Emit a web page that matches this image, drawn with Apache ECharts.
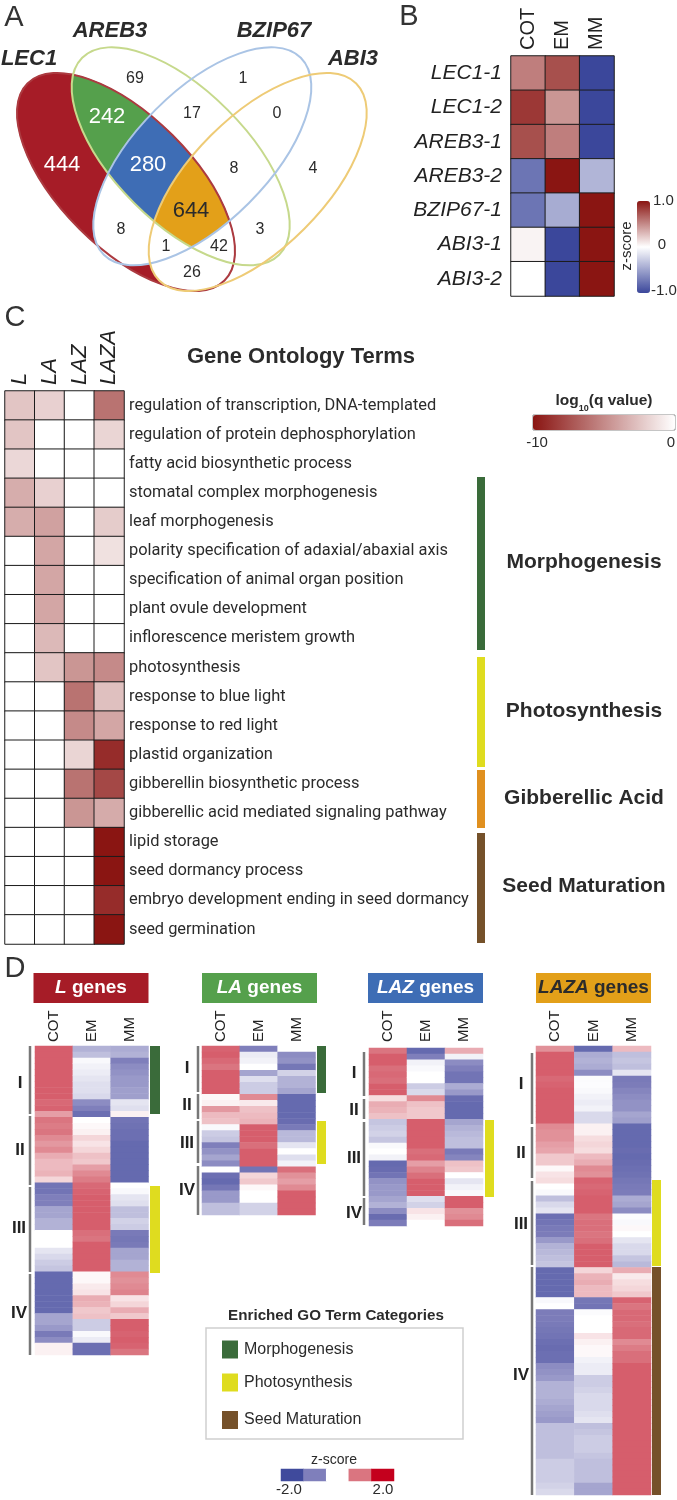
<!DOCTYPE html>
<html>
<head>
<meta charset="utf-8">
<title>LEC1 AREB3 BZIP67 ABI3</title>
<script src="https://cdn.jsdelivr.net/npm/echarts@6/dist/echarts.min.js"></script>
<style>
  html, body { margin: 0; padding: 0; background: #fff; }
  #main { width: 677px; height: 1500px; }
</style>
</head>
<body>
<div id="main"></div>
<script>
// panel A - overlap counts, same order as vennSpots below
var vennCounts = [69, 1, 17, 0, 242, 444, 280, 8, 4, 644, 8, 3, 1, 42, 26]
var vennSets = ['LEC1', 'AREB3', 'BZIP67', 'ABI3']

// panel B - z-score
var stages = ['COT', 'EM', 'MM']
var bGenes = ['LEC1-1', 'LEC1-2', 'AREB3-1', 'AREB3-2', 'BZIP67-1', 'ABI3-1', 'ABI3-2']
var bCot = [0.55, 0.85, 0.75, -0.75, -0.75, 0.05, 0]
var bEm = [0.75, 0.45, 0.55, 1, -0.45, -1, -1]
var bMm = [-1, -1, -1, -0.4, 1, 1, 1]

// panel C - log10(q value)
var cGroups = ['L', 'LA', 'LAZ', 'LAZA']
var cTerms = [
  'regulation of transcription, DNA-templated',
  'regulation of protein dephosphorylation',
  'fatty acid biosynthetic process',
  'stomatal complex morphogenesis',
  'leaf morphogenesis',
  'polarity specification of adaxial/abaxial axis',
  'specification of animal organ position',
  'plant ovule development',
  'inflorescence meristem growth',
  'photosynthesis',
  'response to blue light',
  'response to red light',
  'plastid organization',
  'gibberellin biosynthetic process',
  'gibberellic acid mediated signaling pathway',
  'lipid storage',
  'seed dormancy process',
  'embryo development ending in seed dormancy',
  'seed germination'
]
var cL = [-2.5, -2.5, -1.7, -3.5, -3.5, 0, 0, 0, 0, 0, 0, 0, 0, 0, 0, 0, 0, 0, 0]
var cLA = [-2, 0, 0, -2, -4, -3.8, -3.8, -3.8, -3, -2.5, 0, 0, 0, 0, 0, 0, 0, 0, 0]
var cLAZ = [0, 0, 0, 0, 0, 0, 0, 0, 0, -4.5, -6, -5, -1.8, -6, -4.5, 0, 0, 0, 0]
var cLAZA = [-6, -1.8, 0, 0, -2.2, -1.3, 0, 0, 0, -5, -2.7, -3.8, -9, -7.8, -3.6, -10, -10, -9, -10]

// panel D - z-score per row
var lCot = [1.2, 1.2, 1.2, 1.2, 1.2, 1.2, 1.2, 1.2, 1.2, 1.1, 1.15, 0.7,
  1.0, 0.95, 1.0, 0.85, 0.75, 0.85, 0.6, 0.5, 0.5, 0.55, 0.3,
  -1.2, -1.2, -1.0, -1.0, -0.7, -0.7, -0.6, -0.6, 0, 0, 0, -0.2, -0.3, -0.4, -0.45,
  -1.4, -1.4, -1.4, -1.4, -1.4, -1.4, -1.4, -0.7, -0.7, -0.8, -1.1, -0.9, 0.1, 0.1]
var lEm = [-0.6, -0.5, -0.05, -0.1, -0.15, -0.2, -0.25, -0.25, -0.3, -0.9, -1.0, -1.3,
  0, 0.05, 0.1, 0.3, 0.2, 0.3, 0.45, 0.4, 0.7, 0.85, 0.95,
  1.1, 1.15, 1.2, 1.2, 1.2, 1.2, 1.2, 1.2, 1.05, 1.0, 1.2, 1.2, 1.2, 1.2, 1.2,
  0.05, 0.05, 0.15, 0.2, 0.6, 0.55, 0.4, 0.45, -0.4, -0.4, -0.05, -0.15, -1.3, -1.3]
var lMm = [-0.65, -0.6, -1.0, -0.9, -0.85, -0.8, -0.8, -0.75, -0.75, -0.2, -0.25, 0.1,
  -1.2, -1.25, -1.3, -1.3, -1.4, -1.4, -1.4, -1.4, -1.4, -1.4, -1.4,
  0, -0.05, -0.2, -0.25, -0.5, -0.5, -0.35, -0.4, -1.1, -1.15, -1.1, -0.7, -0.7, -0.6, -0.6,
  0.85, 0.8, 0.85, 0.9, 0.2, 0.3, 0.6, 0.4, 1.2, 1.2, 1.15, 1.2, 1.15, 1.0]

var laCot = [1.15, 1.2, 1.1, 1.0, 1.2, 1.2, 1.2, 1.2, 0.05, 0.1, 0.75, 0.5, 0.45, -0.05,
  -0.4, -0.45, -1.0, -0.85, -0.7, -0.9, 0.0, -1.3, -1.4, -1.15, -0.8, -0.8, -0.5, -0.5]
var laEm = [-1.0, -0.15, -0.1, 0, -0.7, -0.25, -0.4, -0.4, 0.85, 0.15, 0.45, 0.5, 0.55, 1.2,
  1.2, 1.2, 1.05, 1.2, 1.2, 1.2, -1.2, 0.3, 0.4, 0.05, 0, 0, -0.35, -0.35]
var laMm = [0, -0.9, -0.85, -1.15, -0.35, -0.6, -0.6, -0.7, -1.4, -1.4, -1.4, -1.4, -1.35, -1.1,
  -0.55, -0.55, -0.2, 0, -0.25, -0.1, 1.05, 0.8, 0.7, 0.85, 1.2, 1.2, 1.2, 1.2]

var lazCot = [1.0, 1.2, 1.2, 1.05, 1.1, 1.05, 1.2, 1.2, 0.25, 0.6, 0.55, 0.45, -0.45, -0.4, -0.35,
  -0.45, -0.05, 0, -0.1, -1.4, -1.35, -1.2, -0.85, -0.8, -0.8, -0.7, -0.6, -0.9, -1.35, -1.05]
var lazEm = [-1.4, -1.0, -0.1, -0.05, 0, 0, -0.4, -0.3, 0.85, 0.45, 0.4, 0.4, 1.2, 1.2, 1.2,
  1.2, 1.2, 1.05, 1.1, 0.7, 0.9, 1.05, 1.2, 1.2, 1.2, -0.25, -0.35, 0.2, 0.1, 0]
var lazMm = [0.6, -0.1, -0.9, -1.0, -1.2, -1.2, -0.65, -0.8, -1.35, -1.4, -1.4, -1.4, -0.7, -0.6, -0.55,
  -0.5, -0.5, -1.1, -0.95, 0.45, 0.4, 0, -0.2, -0.1, -0.05, 1.2, 1.2, 0.8, 0.85, 1.05]

var lazaCot = [0.8, 1.2, 1.2, 1.2, 1.2, 1.1, 1.15, 1.2, 1.2, 1.2, 1.2, 1.2, 1.2, 0.85, 0.8,
  0.8, 0.7, 0.65, 0.4, 0.4, 0.05, 0.2, 0.25, 0, -0.05, -0.5, -0.3, -0.2, -1.3, -1.2,
  -1.1, -1.05, -0.8, -0.6, -0.55, -0.5, -0.45, -1.4, -1.4, -1.4, -1.4, -1.4, -0.05, 0, -1.05,
  -1.05, -1.1, -1.15, -1.2, -1.3, -1.35, -1.3, -1.3, -0.9, -0.85, -0.8, -0.6, -0.6, -0.6, -0.65,
  -0.7, -0.75, -0.8, -0.5, -0.5, -0.5, -0.5, -0.5, -0.5, -0.4, -0.4, -0.4, -0.4, -0.35, -0.3]
var lazaEm = [-1.4, -0.65, -0.6, -0.65, -0.9, -0.03, -0.02, -0.05, -0.1, -0.15, -0.1, -0.3, -0.3, 0.1, 0.1,
  0.25, 0.3, 0.25, 0.5, 0.6, 0.85, 0.8, 1.15, 1.1, 1.15, 1.2, 1.2, 1.2, 1.0, 1.05,
  1.05, 1.0, 1.05, 1.2, 1.2, 1.2, 1.2, 0.3, 0.55, 0.6, 0.5, 0.5, -1.15, -1.2, -0.03,
  0, 0, 0, 0.2, 0.1, 0.05, 0.05, -0.1, -0.15, -0.15, -0.4, -0.4, -0.35, -0.3, -0.3,
  -0.3, -0.25, -0.2, -0.5, -0.45, -0.4, -0.4, -0.4, -0.45, -0.5, -0.5, -0.5, -0.5, -0.7, -0.7]
var lazaMm = [0.5, -0.5, -0.45, -0.5, -0.2, -1.1, -1.05, -0.95, -0.9, -0.85, -0.85, -0.7, -0.75, -1.4, -1.4,
  -1.4, -1.4, -1.35, -1.4, -1.35, -1.3, -1.25, -1.15, -1.1, -1.05, -0.65, -0.7, -0.9, -0.02, -0.05,
  0.05, 0, -0.2, -0.3, -0.3, -0.45, -0.55, 0.6, 0.15, 0.25, 0.3, 0.4, 1.15, 1.0, 1.1,
  1.1, 1.05, 1.1, 1.1, 0.85, 0.95, 1.05, 1.05, 1.2, 1.2, 1.2, 1.2, 1.2, 1.2, 1.2,
  1.2, 1.2, 1.2, 1.2, 1.2, 1.2, 1.2, 1.2, 1.2, 1.2, 1.2, 1.2, 1.2, 1.2, 1.2]

var zSteps = [-2, -1, 0, 1, 2]

var FONT = '"Liberation Sans", Arial, sans-serif'
var TERM_FONT = 'Roboto, "Liberation Sans", sans-serif'
var INK = '#2b2b2b'

var RED = '#a61c27'
var GREEN = '#55a04c'
var BLUE = '#3e6db5'
var ORANGE = '#e3a019'
var C_MORPH = '#3a6b3a'
var C_PHOTO = '#dfdc1f'
var C_GA = '#e0901f'
var C_SEED = '#75512a'

function cells (cols) {
  var out = []
  cols.forEach(function (col, x) {
    col.forEach(function (v, y) {
      out.push([x, y, v])
    })
  })
  return out
}

function rowNames (n) {
  var out = []
  for (var i = 0; i < n; i++) out.push('r' + i)
  return out
}

var grids = []
var xAxes = []
var yAxes = []
var series = []

function addHeat (box, xNames, yNames, cols, xLabel, yAxisExtra, border) {
  var idx = grids.length
  grids.push({ left: box[0], top: box[1], width: box[2], height: box[3], containLabel: false })
  xAxes.push({
    type: 'category',
    gridIndex: idx,
    data: xNames,
    position: 'top',
    axisLine: { show: false },
    axisTick: { show: false },
    splitLine: { show: false },
    axisLabel: xLabel || { show: false }
  })
  yAxes.push(Object.assign({
    type: 'category',
    gridIndex: idx,
    data: yNames,
    inverse: true,
    axisLine: { show: false },
    axisTick: { show: false },
    splitLine: { show: false },
    axisLabel: { show: false }
  }, yAxisExtra || {}))
  series.push({
    type: 'heatmap',
    xAxisIndex: idx,
    yAxisIndex: idx,
    data: cells(cols),
    silent: true,
    itemStyle: border ? { borderColor: '#1c1c1c', borderWidth: 1 } : { borderWidth: 0 },
    emphasis: { disabled: true }
  })
  return idx
}

function stageLabel (size, margin) {
  return { show: true, rotate: -90, interval: 0, fontFamily: FONT, fontSize: size, color: '#222', margin: margin }
}

// B
var sB = addHeat([511, 56, 103, 240], stages, bGenes, [bCot, bEm, bMm], stageLabel(20, 6), {
  axisLabel: { show: true, interval: 0, fontFamily: FONT, fontStyle: 'italic', fontSize: 21, color: '#222', margin: 9 }
}, true)

// C
var sC = addHeat([5, 391, 119, 553], cGroups, cTerms, [cL, cLA, cLAZ, cLAZA], {
  show: true, rotate: -90, interval: 0, fontFamily: FONT, fontStyle: 'italic', fontSize: 22, color: '#222', margin: 6
}, {
  position: 'right',
  axisLabel: { show: true, interval: 0, align: 'left', fontFamily: TERM_FONT, fontSize: 16.4, color: '#2b2b2b', margin: 5 }
}, true)

// D
var sL = addHeat([35, 1046, 113.5, 309], stages, rowNames(lCot.length), [lCot, lEm, lMm], stageLabel(15, 4))
var sLA = addHeat([202, 1046, 113.5, 169], stages, rowNames(laCot.length), [laCot, laEm, laMm], stageLabel(15, 4))
var sLAZ = addHeat([369, 1048, 114, 178], stages, rowNames(lazCot.length), [lazCot, lazEm, lazMm], stageLabel(15, 6))
var sLAZA = addHeat([536, 1046, 115, 449], stages, rowNames(lazaCot.length), [lazaCot, lazaEm, lazaMm], stageLabel(15, 4))
var sZ = addHeat([281, 1469, 113, 12], zSteps.map(String), ['z'], zSteps.map(function (v) { return [v] }))

// venn geometry
var ELL_A = 139.3
var ELL_B = 66
var ellipses = [
  { cx: 126, cy: 182, rot: 45 },
  { cx: 180.7, cy: 156.3, rot: 45 },
  { cx: 202.3, cy: 156.3, rot: -45 },
  { cx: 257.7, cy: 182, rot: -45 }
]

function ellipsePts (e) {
  var pts = []
  var r = e.rot * Math.PI / 180
  for (var i = 0; i < 180; i++) {
    var t = i * 2 * Math.PI / 180
    var ux = ELL_A * Math.cos(t)
    var uy = ELL_B * Math.sin(t)
    pts.push([e.cx + ux * Math.cos(r) - uy * Math.sin(r), e.cy + ux * Math.sin(r) + uy * Math.cos(r)])
  }
  return pts
}

// both shapes are convex so plain Sutherland-Hodgman does it
function clipConvex (subject, clip) {
  var out = subject
  for (var i = 0; i < clip.length; i++) {
    var a = clip[i]
    var b = clip[(i + 1) % clip.length]
    var inside = function (p) {
      return (b[0] - a[0]) * (p[1] - a[1]) - (b[1] - a[1]) * (p[0] - a[0]) >= 0
    }
    var input = out
    out = []
    for (var j = 0; j < input.length; j++) {
      var p = input[j]
      var q = input[(j + 1) % input.length]
      var pi = inside(p)
      var qi = inside(q)
      if (pi) out.push(p)
      if (pi !== qi) {
        var dx = q[0] - p[0]
        var dy = q[1] - p[1]
        var ex = b[0] - a[0]
        var ey = b[1] - a[1]
        var s = (ex * (p[1] - a[1]) - ey * (p[0] - a[0])) / (ey * dx - ex * dy)
        out.push([p[0] + s * dx, p[1] + s * dy])
      }
    }
    if (!out.length) break
  }
  return out
}

var ePts = ellipses.map(ellipsePts)
function overlap (ids) {
  var poly = ePts[ids[0]]
  for (var i = 1; i < ids.length; i++) poly = clipConvex(poly, ePts[ids[i]])
  return poly
}

var g = []

function poly (ids, color) {
  g.push({ type: 'polygon', silent: true, shape: { points: overlap(ids) }, style: { fill: color, stroke: color, lineWidth: 0.5 } })
}

function txt (x, y, text, size, opt) {
  opt = opt || {}
  g.push({
    type: 'text',
    silent: true,
    x: x,
    y: y,
    rotation: opt.rotation || 0,
    style: {
      text: text,
      fill: opt.color || INK,
      fontFamily: opt.family || FONT,
      fontSize: size,
      fontWeight: opt.weight || 'normal',
      fontStyle: opt.style || 'normal',
      align: opt.align || 'center',
      verticalAlign: 'middle',
      rich: opt.rich
    }
  })
}

function box (x0, y0, x1, y1, color) {
  g.push({ type: 'rect', silent: true, shape: { x: x0, y: y0, width: x1 - x0, height: y1 - y0 }, style: { fill: color } })
}

function vline (x, y0, y1) {
  box(x - 1.25, y0, x + 1.25, y1, '#777')
}

// venn painting, back to front
poly([0], RED)
poly([0, 2], '#fff')
poly([0, 3], '#fff')
poly([0, 1], GREEN)
poly([0, 1, 3], '#fff')
poly([0, 1, 2], BLUE)
poly([0, 1, 2, 3], ORANGE)

var vennStroke = ['#ac3a40', '#c6d98c', '#aac4e5', '#eecb76']
ellipses.forEach(function (e, i) {
  g.push({
    type: 'ellipse',
    silent: true,
    x: e.cx,
    y: e.cy,
    rotation: -e.rot * Math.PI / 180,
    shape: { cx: 0, cy: 0, rx: ELL_A, ry: ELL_B },
    style: { fill: 'none', stroke: vennStroke[i], lineWidth: 2 }
  })
})

var vennSpots = [
  [135, 79, 16], [243, 79, 16], [192, 114, 16], [277, 114, 16], [107, 117, 22],
  [62, 165, 22], [148, 165, 22], [234, 169, 16], [313, 169, 16], [191, 211, 22],
  [121, 230, 16], [260, 230, 16], [166, 247, 16], [219, 247, 16], [192, 273, 16]
]
var vennLight = { 4: 1, 5: 1, 6: 1 }
vennCounts.forEach(function (n, i) {
  var s = vennSpots[i]
  txt(s[0], s[1], String(n), s[2], { color: vennLight[i] ? '#fff' : INK })
})

var setSpots = [[29, 59], [110, 31], [274, 31], [353, 59]]
vennSets.forEach(function (name, i) {
  txt(setSpots[i][0], setSpots[i][1], name, 22, { weight: 'bold', style: 'italic' })
})

// panel letters
txt(14, 18, 'A', 29, { color: '#333' })
txt(409, 17, 'B', 29, { color: '#333' })
txt(15, 318, 'C', 29, { color: '#333' })
txt(15, 969, 'D', 29, { color: '#333' })

// B colour bar text
txt(653, 201, '1.0', 15, { align: 'left' })
txt(662, 245, '0', 15)
txt(651, 291, '-1.0', 15, { align: 'left' })
txt(627, 246, 'z-score', 15, { rotation: Math.PI / 2 })

// C headers and side bars
txt(301, 357, 'Gene Ontology Terms', 22, { weight: 'bold' })
txt(604, 401, 'log{sub|10}(q value)', 15.5, {
  weight: 'bold',
  rich: { sub: { fontSize: 9, fontWeight: 'bold', fontFamily: FONT, fill: INK, verticalAlign: 'bottom', lineHeight: 24 } }
})
g.push({ type: 'rect', silent: true, shape: { x: 533, y: 415, width: 142, height: 15 }, style: { fill: 'none', stroke: '#8c8c8c', lineWidth: 1 } })
txt(537, 443, '-10', 15)
txt(671, 443, '0', 15)

box(477, 477, 485, 650, C_MORPH)
box(477, 657, 485, 767, C_PHOTO)
box(477, 770, 485, 828, C_GA)
box(477, 833, 485, 943, C_SEED)
txt(584, 562, 'Morphogenesis', 21, { weight: 'bold' })
txt(584, 711, 'Photosynthesis', 21, { weight: 'bold' })
txt(584, 798, 'Gibberellic Acid', 21, { weight: 'bold' })
txt(584, 886, 'Seed Maturation', 21, { weight: 'bold' })

// D headers
var geneHeads = [
  [33.5, RED, 'L', '#fff'],
  [202, GREEN, 'LA', '#fff'],
  [368, BLUE, 'LAZ', '#fff'],
  [536, ORANGE, 'LAZA', '#2b2b2b']
]
geneHeads.forEach(function (h) {
  box(h[0], 973, h[0] + 115, 1003, h[1])
  txt(h[0] + 57.5, 988, '{i|' + h[2] + '} genes', 19, {
    weight: 'bold',
    color: h[3],
    rich: { i: { fontStyle: 'italic', fontWeight: 'bold', fontSize: 19, fontFamily: FONT, fill: h[3] } }
  })
})

// D cluster brackets: [x, from, to], then roman numeral spots
var brackets = [
  [30, 1046, 1114], [30, 1116, 1185], [30, 1187, 1272], [30, 1274, 1355],
  [198, 1046, 1092], [198, 1094, 1119], [198, 1121, 1163], [198, 1166, 1215],
  [364, 1052, 1096], [364, 1099, 1119], [364, 1122, 1196], [364, 1198, 1225],
  [532, 1053, 1124], [532, 1127, 1178], [532, 1181, 1265], [532, 1267, 1495]
]
brackets.forEach(function (b) { vline(b[0], b[1], b[2]) })

var roman = ['I', 'II', 'III', 'IV']
var romanSpots = [
  [20, 1083], [20, 1150], [19, 1228], [19, 1313],
  [187, 1068], [187, 1105], [187, 1143], [187, 1190],
  [354, 1073], [354, 1110], [354, 1158], [354, 1213],
  [521, 1084], [521, 1153], [521, 1224], [521, 1375]
]
romanSpots.forEach(function (s, i) {
  txt(s[0], s[1], roman[i % 4], 17, { weight: 'bold', color: '#222' })
})

// D category bars next to the heatmaps
box(150, 1046, 160, 1114, C_MORPH)
box(150, 1186, 160, 1273, C_PHOTO)
box(317, 1046, 326, 1093, C_MORPH)
box(317, 1121, 326, 1164, C_PHOTO)
box(485, 1120, 494, 1197, C_PHOTO)
box(652, 1180, 661, 1266, C_PHOTO)
box(652, 1267, 661, 1495, C_SEED)

// D legend
txt(336, 1316, 'Enriched GO Term Categories', 15.2, { weight: 'bold' })
g.push({ type: 'rect', silent: true, shape: { x: 206, y: 1328, width: 257, height: 111 }, style: { fill: 'none', stroke: '#cfcfcf', lineWidth: 1.5 } })
var legendRows = [['Morphogenesis', C_MORPH, 1349.5], ['Photosynthesis', C_PHOTO, 1382.5], ['Seed Maturation', C_SEED, 1420]]
legendRows.forEach(function (r) {
  box(222, r[2] - 9, 238, r[2] + 9, r[1])
  txt(244, r[2], r[0], 16, { align: 'left' })
})
txt(334, 1460, 'z-score', 14)
txt(289, 1490, '-2.0', 15)
txt(383, 1490, '2.0', 15)

var chart = echarts.init(document.getElementById('main'), null, { renderer: 'canvas' })
chart.setOption({
  animation: false,
  backgroundColor: '#fff',
  tooltip: { show: false },
  grid: grids,
  xAxis: xAxes,
  yAxis: yAxes,
  visualMap: [
    {
      type: 'continuous',
      seriesIndex: sB,
      min: -1,
      max: 1,
      orient: 'vertical',
      left: 637,
      top: 201,
      padding: 0,
      itemWidth: 13,
      itemHeight: 92,
      text: ['', ''],
      showLabel: false,
      calculable: false,
      inRange: { color: ['#3b479b', '#ffffff', '#8a1512'] }
    },
    {
      type: 'continuous',
      seriesIndex: sC,
      min: -10,
      max: 0,
      orient: 'horizontal',
      left: 533,
      top: 415,
      padding: 0,
      itemWidth: 15,
      itemHeight: 142,
      text: ['', ''],
      calculable: false,
      inRange: { color: ['#8a1512', '#ffffff'] }
    },
    {
      type: 'continuous',
      show: false,
      seriesIndex: [sL, sLA, sLAZ, sLAZA, sZ],
      min: -2,
      max: 2,
      inRange: { color: ['#3f4a9c', '#7f7fbb', '#ffffff', '#da7580', '#c4001d'] }
    }
  ],
  graphic: { elements: g },
  series: series
})
</script>
</body>
</html>
